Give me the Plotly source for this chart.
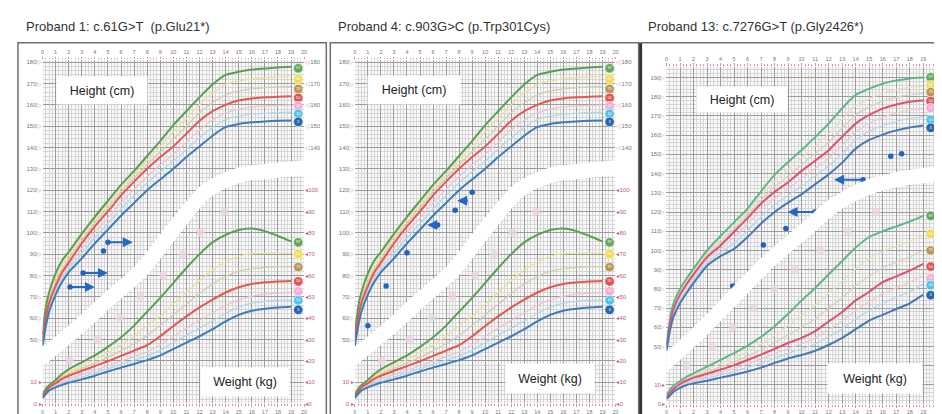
import plotly.graph_objects as go

FIG_W, FIG_H = 942, 414
FONT = "Liberation Sans, Arial, Helvetica, sans-serif"

# ---------------- data ----------------
AGES = [0, 0.25, 0.5, 1, 1.5, 2, 3, 4, 5, 6, 7, 8, 9, 10, 11, 12, 13, 14, 15, 16, 17, 18, 19]
PCT_LABELS = ["97", "90", "75", "50", "25", "10", "3"]

# girls chart (probands 1 and 4) - height, cm
G_H97 = [52, 65, 72, 81, 87, 91, 99.5, 107.5, 115, 122.5, 129, 136, 143, 150.5, 157, 163.5, 169.5, 174, 175.5, 176.5, 177, 177.5, 177.8]
G_H90 = [51, 63.4, 70.4, 79.1, 85.2, 89.4, 98.1, 106.1, 113.4, 120.9, 127.4, 134.1, 140.6, 147.3, 153.6, 160, 165.5, 169.5, 171.2, 172.2, 172.7, 173.1, 173.4]
G_H75 = [50, 61.7, 68.7, 77, 83.3, 87.7, 96.5, 104.5, 111.7, 119.2, 125.7, 132, 138, 143.8, 150, 156.3, 161, 164.6, 166.5, 167.5, 168, 168.4, 168.6]
G_H50 = [49, 60, 67, 75, 81.5, 86, 95, 103, 110, 117.5, 124, 130, 135.5, 140.5, 146.5, 152.5, 157, 160, 162, 163, 163.5, 163.8, 164]
G_H25 = [48.3, 58.6, 65.6, 73.6, 79.9, 84.4, 92.5, 100.1, 106.9, 114.1, 120.4, 126.4, 131.7, 136.7, 142.5, 148.2, 152.9, 156.2, 158, 159, 159.4, 159.7, 159.9]
G_H10 = [47.7, 57.4, 64.4, 72.4, 78.5, 83, 90.4, 97.7, 104.4, 111.2, 117.4, 123.4, 128.6, 133.6, 139.2, 144.6, 149.4, 153.1, 154.7, 155.6, 156, 156.3, 156.5]
G_H3 = [47, 56, 63, 71, 77, 81.5, 88, 95, 101.5, 108, 114, 120, 125, 130, 135.5, 140.5, 145.5, 149.5, 151, 151.8, 152.2, 152.5, 152.7]
# girls weight, kg
G_W97 = [4, 6.8, 8.5, 11, 13.8, 16, 19.3, 22.5, 26.5, 31, 36.5, 43, 49.5, 56.5, 63.5, 70, 75.5, 79, 81.3, 82, 80.8, 78.5, 76]
G_W90 = [3.7, 6.3, 8.1, 10.4, 12.9, 14.8, 17.7, 20.5, 23.8, 27.5, 31.5, 36.5, 41, 46.5, 52, 57.5, 62.5, 66.5, 69, 70.2, 70.5, 70.5, 70.5]
G_W75 = [3.5, 5.9, 7.8, 9.9, 12.1, 13.8, 16.4, 18.9, 21.7, 24.8, 28, 31.8, 36.5, 41.5, 46.5, 51.5, 56, 59.5, 62, 63.2, 63.7, 64, 64]
G_W50 = [3.3, 5.5, 7.5, 9.5, 11.5, 13, 15.3, 17.5, 19.8, 22.3, 24.8, 27.3, 31.5, 36.3, 40.8, 45, 48.7, 52, 54.5, 56, 56.8, 57.2, 57.4]
G_W25 = [3, 5, 6.8, 8.6, 10.3, 11.5, 13.5, 15.5, 17.6, 19.8, 22, 24.2, 27.5, 31.4, 35.3, 39, 42.5, 46, 48.6, 50.3, 51.2, 51.7, 52]
G_W10 = [2.7, 4.8, 6.4, 8, 9.5, 10.6, 12.4, 14.3, 16.3, 18.3, 20.3, 22.3, 25, 28.5, 32, 35.3, 38.7, 42.3, 45.2, 47, 47.9, 48.4, 48.6]
G_W3 = [2.5, 4.5, 6, 7.5, 8.7, 9.7, 11.3, 13, 15, 16.8, 18.5, 20.3, 22.5, 25.5, 28.5, 31.5, 34.8, 38.5, 41.5, 43.5, 44.4, 45, 45.3]
G_HEIGHT_CIRCLES = [177.1, 172, 167.4, 163.2, 159.4, 155.8, 152]
G_WEIGHT_CIRCLES = [75.5, 70.1, 63.9, 57.2, 52.5, 48.3, 43.9]

# boys chart (proband 13)
B_H97 = [51, 64, 72, 80, 85.5, 90.5, 100, 107.5, 114.7, 121.8, 130.8, 139.3, 146, 152.3, 159, 166, 174, 181, 184.2, 186.8, 188.4, 189.5, 190]
B_H90 = [50.4, 62.9, 70.9, 78.9, 84.4, 89.4, 98.7, 105.6, 112.8, 119.9, 128.4, 136, 142, 148.2, 154.3, 160.8, 168.4, 175.3, 179, 181.9, 183.7, 184.9, 185.4]
B_H75 = [50, 61.9, 69.9, 77.9, 83.4, 88.4, 97.6, 104.1, 111.2, 118.3, 126.3, 133.1, 138.7, 144.7, 150.4, 156.3, 163.6, 170.5, 174.6, 177.7, 179.7, 181, 181.6]
B_H50 = [49.5, 61, 69, 77, 82.5, 87.5, 96.5, 102.6, 109.7, 116.8, 124.4, 130.5, 135.5, 141.4, 146.7, 152.2, 159.2, 166, 170.5, 173.8, 176, 177.4, 178]
B_H25 = [49, 60, 67.7, 75.5, 81, 86, 95, 100.8, 106.8, 113.6, 121, 127, 132, 137.4, 142.7, 148, 154.7, 161.7, 166.2, 169.3, 171.5, 173, 173.7]
B_H10 = [48.5, 59, 66.4, 74.1, 79.6, 84.6, 93.6, 99, 103.9, 110.4, 117.6, 123.7, 128.6, 133.5, 138.8, 144, 150.4, 157.5, 162, 165, 167.2, 168.7, 169.5]
B_H3 = [48, 58, 65, 72.5, 78, 83, 92, 97, 100.8, 107, 114, 120, 124.9, 129.3, 134.5, 139.6, 145.7, 153, 157.5, 160.3, 162.5, 164, 165]
B_W97 = [4.5, 7.5, 9.5, 12, 14.3, 16, 19.5, 23, 26.5, 30.5, 35, 40.5, 47, 54, 60.5, 67.5, 74.5, 81.5, 87, 90, 92.5, 95, 98]
B_W90 = [4, 6.8, 8.8, 11.4, 13.5, 15.1, 18, 21, 24, 27.5, 31.3, 35.8, 41, 46.2, 51.5, 57.7, 64, 70.5, 75.6, 79.4, 82.1, 84.8, 88]
B_W75 = [3.6, 6.3, 8.3, 10.9, 12.9, 14.4, 16.8, 19.4, 22, 25.1, 28.4, 32.1, 36, 40, 44.3, 49.9, 55.4, 61.7, 66.5, 71, 73.8, 76.6, 80]
B_W50 = [3.3, 5.8, 7.8, 10.5, 12.3, 13.8, 15.8, 18, 20.3, 23, 25.8, 28.8, 31.8, 34.5, 38, 43, 48, 54, 58.5, 63.5, 66.5, 69.5, 73]
B_W25 = [3.1, 5.3, 7.3, 9.8, 11.5, 12.8, 14.5, 16.5, 18.5, 20.9, 23.4, 26.2, 29, 31.4, 34.4, 38.7, 43.3, 48.8, 53.3, 57.5, 60.5, 63.5, 67]
B_W10 = [2.8, 5, 6.8, 9.2, 10.8, 11.9, 13.5, 15.3, 17, 19.1, 21.4, 24, 26.6, 28.7, 31.4, 35.1, 39.2, 44.3, 48.8, 52.5, 55.5, 58.5, 62.6]
B_W3 = [2.6, 4.5, 6.3, 8.5, 10, 10.8, 12.2, 13.8, 15.3, 17, 19, 21.5, 23.8, 25.6, 27.8, 30.8, 34.5, 39, 43.5, 46.5, 49.5, 52.5, 57]
B_HEIGHT_CIRCLES = [190.1, 186, 182.4, 177.7, 174.1, 168, 163.8]
B_WEIGHT_CIRCLES = [98, 88.7, 80, 71.6, 65.5, 61.9, 56.7]

# white separating band (in weight units) and the faint weight labels along it
G_BAND_X = [-1, 0, 2.5, 5, 7.5, 10, 12.5, 15, 17.5, 20, 21]
G_BAND_W = [17, 22, 34.5, 48.5, 62, 81.5, 99.5, 107, 109, 110.5, 111]
B_BAND_X = [-1, 0, 2.5, 5, 7.5, 10, 12.5, 15, 17.5, 20, 21]
B_BAND_W = [16, 22, 38, 56, 74, 89, 104, 113, 117.5, 119.5, 120]
G_ELL_X = [2.08, 4.2, 5.9, 7.5, 9.2, 10.7, 12.1, 13.9]
G_ELL_W = [20, 30, 40, 50, 60, 70, 80, 90]
B_ELL_X = [1.5, 3.4, 4.9, 6.4, 8.0, 9.5, 11.4, 13.4, 15.5]
B_ELL_W = [20, 30, 40, 50, 60, 70, 80, 90, 100]

# patient measurements (age in years, height in cm); arrows: from -> to at height
P1_DOT_X = [2.1, 3.1, 4.66, 5.0]
P1_DOT_H = [74.6, 81.2, 91.5, 95.6]
P1_ARR_FROM = [2.1, 3.1, 5.0]
P1_ARR_TO = [4.0, 5.0, 6.9]
P1_ARR_H = [74.6, 81.2, 95.6]

P4_DOT_X = [1.0, 2.4, 4.0, 6.35, 7.7, 8.45, 9.0]
P4_DOT_H = [56.4, 75, 90.6, 103.6, 110.6, 115, 119]
P4_ARR_FROM = [6.35, 8.45]
P4_ARR_TO = [5.55, 7.85]
P4_ARR_H = [103.6, 115]

P13_DOT_X = [4.9, 7.17, 8.83, 10.97, 12.6, 14.55, 16.6, 17.4]
P13_DOT_H = [81.5, 102.8, 111.4, 120, 127.5, 136.8, 149, 150.3]
P13_ARR_FROM = [10.97, 14.55]
P13_ARR_TO = [8.96, 12.4]
P13_ARR_H = [120, 136.8]

TITLES = ["Proband 1: c.61G>T  (p.Glu21*)",
          "Proband 4: c.903G>C (p.Trp301Cys)",
          "Proband 13: c.7276G>T (p.Gly2426*)"]

# ---------------- styling ----------------
GIRL_COLORS = ['#5a9e55', '#ece09a', '#d6cbaf', '#e8574f', '#f2c3d2', '#aed8ec', '#3b7cbd']
BOY_COLORS = ['#5fb68b', '#e9dfb9', '#dacfc2', '#e2506d', '#f0c8d3', '#b8d8ea', '#4678b8']
CIRCLE_FILL = ['#62a85c', '#f2dc52', '#b8965a', '#e0524a', '#f4abd0', '#4fc3ea', '#2a66ae']
PINK = '#e58aa3'
WPINK = '#c9587e'
DOT = '#1f63c0'
MAJOR_GRID = '#9c9c9c'
MINOR_GRID = '#d6d6d6'


def pxx(x):
    return x / FIG_W


def pxy(y):
    return (FIG_H - y) / FIG_H


def aname(p, n):
    return p + 'axis' + ('' if n == 1 else str(n))


def aref(p, n):
    return p + ('' if n == 1 else str(n))


panels = [
    dict(title=TITLES[0], tx=14, x0=32.7, x1=295.7, y0=398.3, ytop=51.5, upp=2.154,
         H=[G_H97, G_H90, G_H75, G_H50, G_H25, G_H10, G_H3],
         Wt=[G_W97, G_W90, G_W75, G_W50, G_W25, G_W10, G_W3],
         hc=G_HEIGHT_CIRCLES, wc=G_WEIGHT_CIRCLES, colors=GIRL_COLORS,
         left_h=list(range(50, 181, 10)), right_h=list(range(140, 181, 10)),
         band=(G_BAND_X, G_BAND_W), ell=(G_ELL_X, G_ELL_W),
         dots=(P1_DOT_X, P1_DOT_H), arr=(P1_ARR_FROM, P1_ARR_TO, P1_ARR_H),
         hbox=(92, 82.5, 90, 27), wbox=(236, 377, 88, 28)),
    dict(title=TITLES[1], tx=328, x0=346.7, x1=608.7, y0=398.3, ytop=51.5, upp=2.154,
         H=[G_H97, G_H90, G_H75, G_H50, G_H25, G_H10, G_H3],
         Wt=[G_W97, G_W90, G_W75, G_W50, G_W25, G_W10, G_W3],
         hc=G_HEIGHT_CIRCLES, wc=G_WEIGHT_CIRCLES, colors=GIRL_COLORS,
         left_h=list(range(50, 181, 10)), right_h=list(range(140, 181, 10)),
         band=(G_BAND_X, G_BAND_W), ell=(G_ELL_X, G_ELL_W),
         dots=(P4_DOT_X, P4_DOT_H), arr=(P4_ARR_FROM, P4_ARR_TO, P4_ARR_H),
         hbox=(406, 82, 92, 28), wbox=(543, 373, 88, 29)),
    dict(title=TITLES[2], tx=639, x0=660, x1=931.7, y0=399, ytop=58.5, upp=1.94,
         H=[B_H97, B_H90, B_H75, B_H50, B_H25, B_H10, B_H3],
         Wt=[B_W97, B_W90, B_W75, B_W50, B_W25, B_W10, B_W3],
         hc=B_HEIGHT_CIRCLES, wc=B_WEIGHT_CIRCLES, colors=BOY_COLORS,
         left_h=list(range(50, 191, 10)), right_h=list(range(150, 191, 10)),
         band=(B_BAND_X, B_BAND_W), ell=(B_ELL_X, B_ELL_W),
         dots=(P13_DOT_X, P13_DOT_H), arr=(P13_ARR_FROM, P13_ARR_TO, P13_ARR_H),
         hbox=(736, 91, 90, 25), wbox=(870, 373, 94, 29)),
]

fig = go.Figure()
layout = dict(width=FIG_W, height=FIG_H, margin=dict(l=0, r=0, t=0, b=0),
              paper_bgcolor='white', plot_bgcolor='#f9f9f9', showlegend=False,
              font=dict(family=FONT, size=6, color='#777'))
annotations = []
shapes = []

for i, P in enumerate(panels):
    xb, xt = 2 * i + 1, 2 * i + 2
    yw, yh, yhr, ywr = 4 * i + 1, 4 * i + 2, 4 * i + 3, 4 * i + 4
    dom_x = [pxx(P['x0']), pxx(P['x1'])]
    dom_y = [pxy(P['y0']), pxy(P['ytop'])]
    wmax = (P['y0'] - P['ytop']) / P['upp']
    last = (i == 2)

    layout[aname('x', xb)] = dict(
        domain=dom_x, range=[0, 20], anchor=aref('y', yw), side='bottom',
        tickmode='linear', tick0=0, dtick=1, showgrid=True, gridcolor=MAJOR_GRID, gridwidth=1,
        zeroline=False, showline=False, ticks='outside', ticklen=2.5, tickcolor=PINK, tickwidth=1,
        ticklabelstandoff=0, tickfont=dict(size=5.5, color='#777'), fixedrange=True,
        minor=dict(dtick=0.25, tick0=0, showgrid=True, gridcolor=MINOR_GRID, gridwidth=0.6,
                   ticks='outside', ticklen=1.5, tickcolor=PINK))
    layout[aname('x', xt)] = dict(
        overlaying=aref('x', xb), side='top', anchor=aref('y', yw), range=[0, 20], domain=dom_x,
        tickmode='linear', tick0=0, dtick=1, showgrid=False, zeroline=False,
        ticks='outside', ticklen=2.5, tickcolor=PINK, tickfont=dict(size=5.5, color='#777'),
        minor=dict(dtick=0.25, tick0=0, ticks='outside', ticklen=1.5, tickcolor=PINK, showgrid=False))

    wt_vals = list(range(0, int(wmax) + 1, 10))
    wt_text = [f"{v} ▸" if v in (0, 10) else "" for v in wt_vals]
    layout[aname('y', yw)] = dict(
        domain=dom_y, range=[0, wmax], anchor=aref('x', xb), side='left',
        tickmode='array', tickvals=wt_vals, ticktext=wt_text,
        showgrid=True, gridcolor=MAJOR_GRID, gridwidth=1, zeroline=False, ticks='',
        tickfont=dict(size=6, color=WPINK), fixedrange=True,
        minor=dict(dtick=2, tick0=0, showgrid=True, gridcolor=MINOR_GRID, gridwidth=0.6))
    layout[aname('y', yh)] = dict(
        overlaying=aref('y', yw), anchor=aref('x', xb), side='left', range=[20, wmax + 20],
        tickmode='array', tickvals=P['left_h'],
        ticktext=[f"{v}<span style='color:{PINK}'>▷</span>" for v in P['left_h']],
        showgrid=False, zeroline=False, ticks='', tickfont=dict(size=6, color='#777'))
    rfont = 3.4 if last else 6
    rstand = -2 if last else 0
    layout[aname('y', yhr)] = dict(
        overlaying=aref('y', yw), anchor=aref('x', xb), side='right', range=[20, wmax + 20],
        tickmode='array', tickvals=P['right_h'],
        ticktext=[f"<span style='color:{PINK}'>◁</span>{v}" for v in P['right_h']],
        ticklabelstandoff=rstand,
        showgrid=False, zeroline=False, ticks='', tickfont=dict(size=rfont, color='#777'))
    rw = list(range(0, 101, 10))
    layout[aname('y', ywr)] = dict(
        overlaying=aref('y', yw), anchor=aref('x', xb), side='right', range=[0, wmax],
        tickmode='array', tickvals=rw, ticktext=[f"◂{v}" for v in rw],
        ticklabelstandoff=rstand,
        showgrid=False, zeroline=False, ticks='', tickfont=dict(size=rfont, color=WPINK))

    XB, XT = aref('x', xb), aref('x', xt)
    YW, YH, YHR, YWR = aref('y', yw), aref('y', yh), aref('y', yhr), aref('y', ywr)

    # percentile curves: faint ones first, bold (97, 50, 3) on top
    for j in [1, 2, 4, 5, 0, 3, 6]:
        bold = j in (0, 3, 6)
        lw = 2.0 if bold else 1.3
        fig.add_trace(go.Scatter(x=AGES, y=P['Wt'][j], mode='lines', xaxis=XB, yaxis=YW,
                                 line=dict(color=P['colors'][j], width=lw, shape='spline', smoothing=0.6),
                                 hoverinfo='skip'))
        fig.add_trace(go.Scatter(x=AGES, y=P['H'][j], mode='lines', xaxis=XB, yaxis=YH,
                                 line=dict(color=P['colors'][j], width=lw, shape='spline', smoothing=0.6),
                                 hoverinfo='skip'))

    # white band and weight labels along it
    fig.add_trace(go.Scatter(x=P['band'][0], y=P['band'][1], mode='lines', xaxis=XT, yaxis=YW,
                             line=dict(color='white', width=15, shape='spline', smoothing=0.8),
                             hoverinfo='skip'))
    fig.add_trace(go.Scatter(x=P['ell'][0], y=P['ell'][1], mode='markers', xaxis=XT, yaxis=YW,
                             marker=dict(size=8, color='rgba(236,214,224,0.8)', line=dict(width=0)),
                             hoverinfo='skip'))

    # percentile circles
    fig.add_trace(go.Scatter(x=[19.55] * 7, y=P['hc'], mode='markers+text', xaxis=XB, yaxis=YHR,
                             marker=dict(size=9.5, color=CIRCLE_FILL, line=dict(width=0.6, color='white')),
                             text=PCT_LABELS, textfont=dict(size=4, color='white'),
                             textposition='middle center', cliponaxis=False, hoverinfo='skip'))
    fig.add_trace(go.Scatter(x=[19.55] * 7, y=P['wc'], mode='markers+text', xaxis=XB, yaxis=YWR,
                             marker=dict(size=9.5, color=CIRCLE_FILL, line=dict(width=0.6, color='white')),
                             text=PCT_LABELS, textfont=dict(size=4, color='white'),
                             textposition='middle center', cliponaxis=False, hoverinfo='skip'))

    # patient measurements
    fig.add_trace(go.Scatter(x=P['dots'][0], y=P['dots'][1], mode='markers', xaxis=XB, yaxis=YH,
                             marker=dict(size=5.5, color=DOT), hoverinfo='skip'))
    for a0, a1, hh in zip(*P['arr']):
        annotations.append(dict(x=a1, y=hh, ax=a0, ay=hh, xref=XB, yref=YH, axref=XB, ayref=YH,
                                text='', showarrow=True, arrowhead=2, arrowsize=1, arrowwidth=2,
                                arrowcolor='#2467c4', standoff=0, startstandoff=0))

    # title
    annotations.append(dict(x=pxx(P['tx']), y=pxy(18), xref='paper', yref='paper', xanchor='left',
                            yanchor='middle', text=P['title'], showarrow=False,
                            font=dict(family=FONT, size=13, color='#333')))
    # label boxes
    for (cx, cy, bw, bh), txt in [(P['hbox'], 'Height (cm)'), (P['wbox'], 'Weight (kg)')]:
        annotations.append(dict(x=pxx(cx), y=pxy(cy), xref='paper', yref='paper', xanchor='center',
                                yanchor='middle', text=txt, showarrow=False, bgcolor='white',
                                width=bw, height=bh, borderpad=0,
                                font=dict(family=FONT, size=12.5, color='#222')))

# panel frames
for (l, r) in [(8, 318), (322, 632)]:
    shapes.append(dict(type='rect', xref='paper', yref='paper', x0=pxx(l), x1=pxx(r),
                       y0=pxy(420), y1=pxy(34), line=dict(color='#6e6e6e', width=1.5),
                       fillcolor='rgba(0,0,0,0)', layer='below'))
shapes.append(dict(type='line', xref='paper', yref='paper', x0=pxx(634), x1=pxx(634),
                   y0=pxy(420), y1=pxy(34), line=dict(color='#333', width=3)))
shapes.append(dict(type='line', xref='paper', yref='paper', x0=pxx(634), x1=1.01,
                   y0=pxy(34), y1=pxy(34), line=dict(color='#6e6e6e', width=1.5)))

layout['annotations'] = annotations
layout['shapes'] = shapes
fig.update_layout(**layout)
fig.write_html("out.html")
